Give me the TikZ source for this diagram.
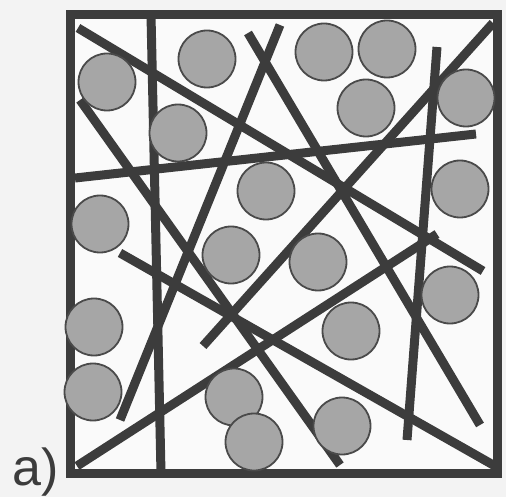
\documentclass[tikz,border=0pt]{standalone}
\usepackage{fontspec}
\setmainfont{Liberation Sans}
\definecolor{bg}{HTML}{F3F3F3}
\definecolor{ink}{HTML}{3C3C3C}
\definecolor{disc}{HTML}{A6A6A6}
\definecolor{rim}{HTML}{4A4A4A}
\tikzset{
  fiber/.style={draw=ink, line width=9pt, line cap=butt},
  frame/.style={draw=ink, line width=9pt, line join=miter},
  grain/.style={circle, draw=rim, fill=disc, line width=1.8pt, minimum size=57pt, inner sep=0pt},
  label/.style={font=\fontsize{52}{52}\selectfont, text=ink, inner sep=0pt, anchor=base west}
}
\begin{document}
\begin{tikzpicture}[x=1pt,y=-1pt]
\useasboundingbox (0,0) rectangle (506,497);
\fill[bg] (0,0) rectangle (506,497);
\fill[white!60!bg] (70,15) rectangle (497,473);
% fibers
\draw[fiber] (151,15) -- (161,473);
\draw[fiber] (78,28) -- (483,271);
\draw[fiber] (75,178) -- (476,134);
\draw[fiber] (80,100) -- (340,465);
\draw[fiber] (248,33) -- (480,425);
\draw[fiber] (280,25) -- (120,420);
\draw[fiber] (493,23) -- (203,346);
\draw[fiber] (77,466) -- (437,234);
\draw[fiber] (120,253) -- (495,466);
\draw[fiber] (437,47) -- (407,440);
% frame
\draw[frame] (70,15) rectangle (497,473);
% grains
\node[grain] (g1) at (107,82) {};
\node[grain] (g2) at (207,59) {};
\node[grain] (g3) at (178,133) {};
\node[grain] (g4) at (100,224) {};
\node[grain] (g5) at (266,191) {};
\node[grain] (g6) at (324,52) {};
\node[grain] (g7) at (387,49) {};
\node[grain] (g8) at (366,108) {};
\node[grain] (g9) at (466,98) {};
\node[grain] (g10) at (460,189) {};
\node[grain] (g11) at (231,255) {};
\node[grain] (g12) at (318,262) {};
\node[grain] (g13) at (450,295) {};
\node[grain] (g14) at (94,327) {};
\node[grain] (g15) at (351,331) {};
\node[grain] (g16) at (93,392) {};
\node[grain] (g17) at (234,397) {};
\node[grain] (g18) at (254,442) {};
\node[grain] (g19) at (342,426) {};
% label
\node[label] (lab) at (12,485) {a)};
\end{tikzpicture}
\end{document}
